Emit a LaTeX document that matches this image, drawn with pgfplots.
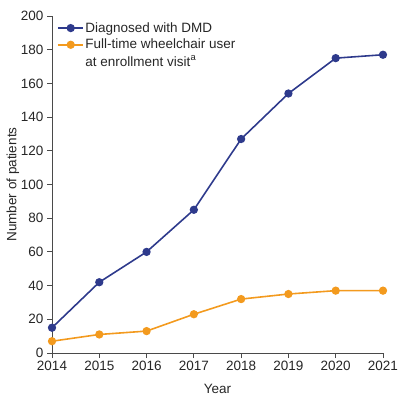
\documentclass[border=0pt]{standalone}
\usepackage{pgfplots}
\pgfplotsset{compat=1.18}
\usepackage{fontspec}
\setmainfont{Liberation Sans}
\definecolor{dmdblue}{HTML}{2E3A8C}
\definecolor{wcorange}{HTML}{F39A1E}
\definecolor{axgray}{HTML}{4A4A4A}
\begin{document}
\begin{tikzpicture}
\useasboundingbox (-52bp,-52bp) rectangle (347bp,353bp);
\begin{axis}[
  at={(0,0)}, anchor=south west,
  scale only axis,
  width=331bp, height=337bp,
  xmin=2014, xmax=2021, ymin=0, ymax=200,
  xtick={2014,...,2021}, ytick={0,20,...,200},
  axis x line*=bottom, axis y line*=left,
  axis line style={axgray, line width=0.9pt, -},
  tick style={axgray, line width=0.9pt},
  tick align=outside, major tick length=5bp,
  /pgf/number format/assume math mode=true,
  /pgf/number format/1000 sep={},
  tick label style={font=\fontsize{13.5bp}{15bp}\selectfont, text=black!85},
  label style={font=\fontsize{13.5bp}{15bp}\selectfont, text=black!85},
  xlabel={Year}, ylabel={Number of patients},
  xlabel style={yshift=-6bp},
  ylabel style={yshift=-5bp},
  legend style={draw=none, fill=none, at={(rel axis cs:0.015,0.985)}, anchor=north west,
    font=\fontsize{13.5bp}{15bp}\selectfont, text=black!85,
    row sep=3bp, inner sep=0pt,
    nodes={inner sep=1.2bp}},
  legend cell align=left,
  legend image code/.code={
    \draw[#1] (0cm,0cm) -- (0.9cm,0cm);
    \draw[#1, only marks] plot coordinates {(0.45cm,0cm)};
  },
  every axis plot/.append style={line width=1.6pt, mark=*, mark size=3.3bp},
]
\addplot[color=dmdblue, mark options={fill=dmdblue}] coordinates {
  (2014,15) (2015,42) (2016,60) (2017,85) (2018,127) (2019,154) (2020,175) (2021,177)
};
\addlegendentry{Diagnosed with DMD}
\addplot[color=wcorange, mark options={fill=wcorange}] coordinates {
  (2014,7) (2015,11) (2016,13) (2017,23) (2018,32) (2019,35) (2020,37) (2021,37)
};
\addlegendentry{Full-time wheelchair user}
\addlegendimage{empty legend}
\addlegendentry{at enrollment visit\textsuperscript{a}}
\end{axis}
\end{tikzpicture}
\end{document}
